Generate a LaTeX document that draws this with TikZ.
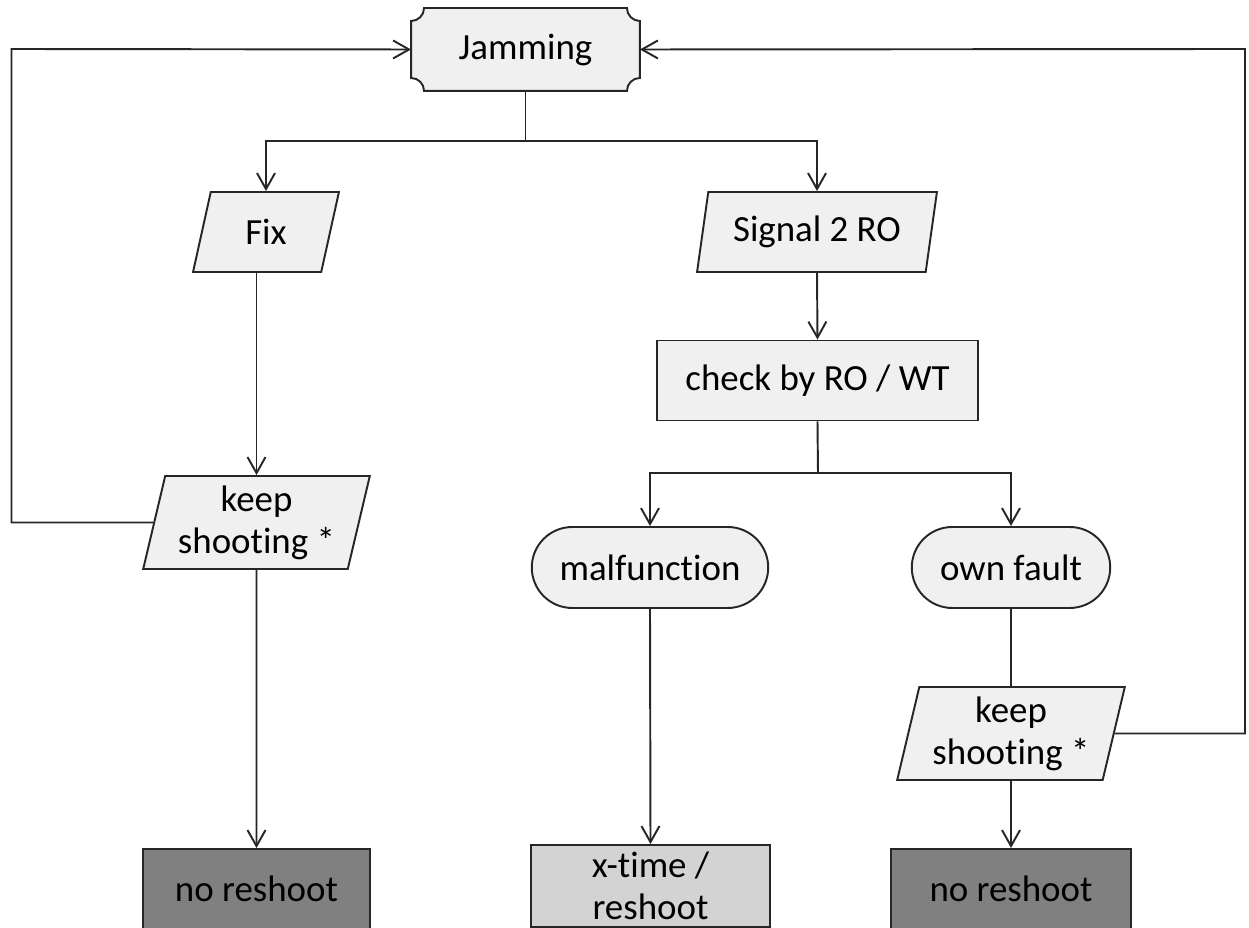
\documentclass[tikz,border=0pt]{standalone}
\usepackage{fontspec}
\setmainfont{Carlito}[Ligatures=NoCommon]
\usetikzlibrary{shapes.geometric,shapes.misc,arrows.meta,backgrounds}
\definecolor{boxfill}{HTML}{F0F0F0}
\definecolor{darkres}{HTML}{808080}
\definecolor{lightres}{HTML}{D3D3D3}
\definecolor{edge}{HTML}{262626}
\tikzset{
	base/.style={draw=edge,line width=1.1pt,fill=boxfill,inner sep=1pt,align=center,font=\fontsize{21}{24}\selectfont},
	iobox/.style={base,trapezium,trapezium left angle=76,trapezium right angle=104,trapezium stretches=true},
	procbox/.style={base,rectangle},
	termbox/.style={base,rounded rectangle,minimum height=1.62cm},
	flow/.style={draw=edge,line width=1.1pt,-{Straight Barb[length=0.32cm,width=0.36cm]}},
	link/.style={draw=edge,line width=1.1pt}
}
\begin{document}
\begin{tikzpicture}[x=0.02cm,y=-0.02cm]
	\useasboundingbox (0,0) rectangle (1249,928);
	\node[base,draw=none,fill=none,minimum width=4.54cm,minimum height=1.62cm] (jam) at (525.5,49.5) {Jamming};
	\begin{scope}[on background layer] % concave corners
	\filldraw[draw=edge,line width=1.1pt,fill=boxfill]
		([xshift=0.26cm]jam.north west) -- ([xshift=-0.26cm]jam.north east)
		arc[start angle=180,end angle=270,radius=0.26cm] -- ([yshift=0.26cm]jam.south east)
		arc[start angle=90,end angle=180,radius=0.26cm] -- ([xshift=0.26cm]jam.south west)
		arc[start angle=0,end angle=90,radius=0.26cm] -- ([yshift=-0.26cm]jam.north west)
		arc[start angle=270,end angle=360,radius=0.26cm] -- cycle;
	\end{scope}
	\node[iobox,minimum width=2.92cm,minimum height=1.6cm] (fix) at (266,232) {Fix};
	\node[iobox,minimum width=4.8cm,minimum height=1.6cm] (sig) at (817,232) {Signal 2 RO};
	\node[procbox,minimum width=6.42cm,minimum height=1.6cm] (check) at (817.5,380.5) {check by RO / WT};
	\node[termbox,minimum width=4.8cm] (malf) at (650,567.5) {malfunction};
	\node[termbox,minimum width=4.04cm] (own) at (1011,567.5) {own fault};
	\node[iobox,minimum width=4.54cm,minimum height=1.86cm] (keepL) at (256.5,522.5) {keep\\shooting *};
	\node[iobox,minimum width=4.56cm,minimum height=1.86cm] (keepR) at (1011,733.5) {keep\\shooting *};
	\node[procbox,fill=darkres,minimum width=4.54cm,minimum height=1.6cm] (noL) at (256.5,889) {no reshoot};
	\node[procbox,fill=lightres,minimum width=4.78cm,minimum height=1.64cm] (xtime) at (650.5,886) {x-time /\\reshoot};
	\node[procbox,fill=darkres,minimum width=4.8cm,minimum height=1.6cm] (noR) at (1011,889) {no reshoot};
	\coordinate (split1) at (525.5,141);
	\coordinate (split2) at (818,473);
	\coordinate (loopL) at (11.5,49);
	\coordinate (loopR) at (1245,49);
	\draw[link] (jam.south) -- (split1); % branch
	\draw[flow] (split1) -| (fix.north);
	\draw[flow] (split1) -| (sig.north);
	\draw[flow] (sig.south) -- (check.north);
	\draw[link] (check.south) -- (split2);
	\draw[flow] (split2) -| (malf.north);
	\draw[flow] (split2) -| (own.north);
	\draw[flow] (fix.south -| keepL.north) -- (keepL.north);
	\draw[flow] (keepL.south) -- (noL.north);
	\draw[flow] (malf.south) -- (xtime.north);
	\draw[link] (own.south) -- (keepR.north);
	\draw[flow] (keepR.south) -- (noR.north);
	\draw[flow] (keepL.west) -| (loopL) -- (jam.west); % back to start
	\draw[flow] (keepR.east) -| (loopR) -- (jam.east);
\end{tikzpicture}
\end{document}
